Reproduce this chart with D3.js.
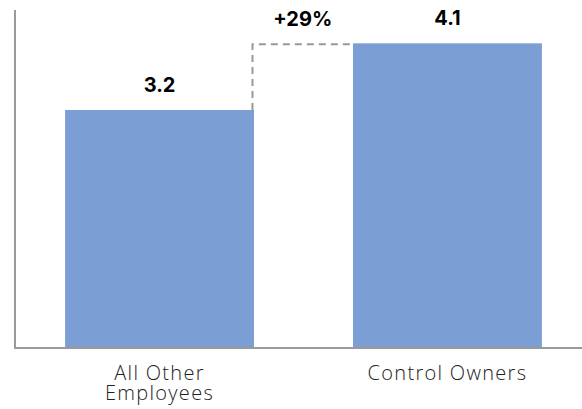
<!DOCTYPE html>
<html>
<head>
<meta charset="utf-8">
<script src="https://cdn.jsdelivr.net/npm/d3@7"></script>
<style>
  body { margin: 0; background: #fff; }
  svg { display: block; }
  .value { font-family: "Inter", "Open Sans", sans-serif; font-weight: 700; font-size: 20px; fill: #000; }
  .cat { font-family: "Open Sans", "Lato", sans-serif; font-weight: 300; font-size: 20px; letter-spacing: 1.3px; fill: #222; }
</style>
</head>
<body>
<svg id="chart" width="582" height="409"></svg>
<script>
'use strict';

var categories = ['All Other Employees', 'Control Owners'];
var catLines = [['All Other', 'Employees'], ['Control Owners']];
var values = [3.2, 4.1];
var valueLabels = ['3.2', '4.1'];
var changeLabel = '+29%';

var svg = d3.select('#chart');

var x = d3.scaleBand()
    .domain(categories)
    .range([15, 592])
    .paddingInner(0.344)
    .paddingOuter(0.174);

var y = d3.scaleLinear()
    .domain([0, 4.55])
    .range([347, 10]);

// bars
svg.selectAll('rect.bar')
    .data(values)
    .enter().append('rect')
    .attr('class', 'bar')
    .attr('x', function (d, i) { return x(categories[i]); })
    .attr('y', function (d) { return y(d); })
    .attr('width', x.bandwidth())
    .attr('height', function (d) { return y(0) - y(d); })
    .attr('fill', '#7b9fd4');

// axes lines
svg.append('line')
    .attr('x1', 15).attr('x2', 15)
    .attr('y1', y(4.55)).attr('y2', y(0) + 2)
    .attr('stroke', '#9a9a9a').attr('stroke-width', 2);
svg.append('line')
    .attr('x1', 14).attr('x2', 582)
    .attr('y1', y(0) + 1).attr('y2', y(0) + 1)
    .attr('stroke', '#9a9a9a').attr('stroke-width', 2);

// dashed comparison line
var xa = x(categories[0]) + x.bandwidth() - 1.5;
var xb = x(categories[1]);
svg.append('path')
    .attr('d', 'M' + xa + ',' + y(values[0]) + 'V' + (y(values[1]) + 1) + 'H' + xb)
    .attr('fill', 'none')
    .attr('stroke', '#999')
    .attr('stroke-width', 2)
    .attr('stroke-dasharray', '7,5');

// value labels
svg.selectAll('text.value')
    .data(values)
    .enter().append('text')
    .attr('class', 'value')
    .attr('text-anchor', 'middle')
    .attr('x', function (d, i) { return x(categories[i]) + x.bandwidth() / 2; })
    .attr('y', function (d) { return y(d) - 18; })
    .text(function (d, i) { return valueLabels[i]; });

svg.append('text')
    .attr('class', 'value')
    .attr('text-anchor', 'middle')
    .attr('x', (xa + xb) / 2)
    .attr('y', 26)
    .text(changeLabel);

// category labels, one text per line
categories.forEach(function (c, i) {
    catLines[i].forEach(function (line, j) {
        svg.append('text')
            .attr('class', 'cat')
            .attr('text-anchor', 'middle')
            .attr('x', x(c) + x.bandwidth() / 2)
            .attr('y', 380 + j * 20)
            .text(line);
    });
});
</script>
</body>
</html>
